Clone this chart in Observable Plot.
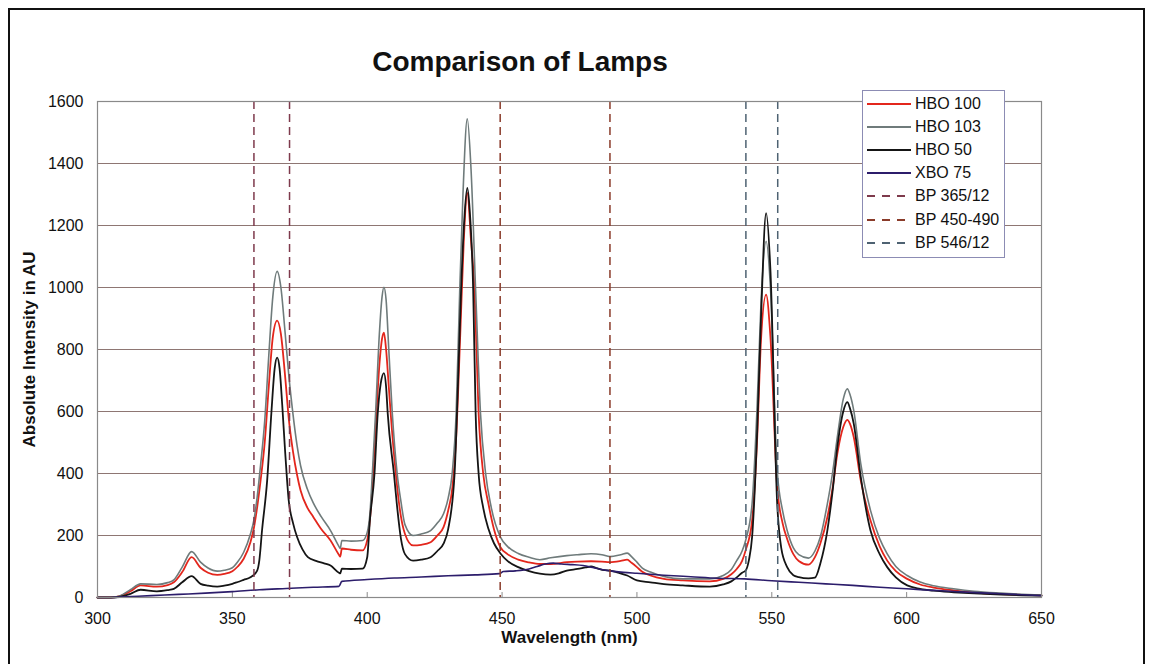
<!DOCTYPE html>
<html><head><meta charset="utf-8">
<script src="https://cdn.jsdelivr.net/npm/d3@7"></script>
<script src="https://cdn.jsdelivr.net/npm/@observablehq/plot@0.6"></script>
<style>
html,body{margin:0;padding:0;background:#fff;}
#wrap{position:relative;width:1155px;height:664px;overflow:hidden;font-family:"Liberation Sans",Arial,sans-serif;}
#border{position:absolute;left:8px;top:8px;width:1137px;height:700px;border:2px solid #111;border-bottom:none;box-sizing:border-box;}
#title{position:absolute;left:0;width:1040px;top:44px;text-align:center;font-size:28px;font-weight:bold;line-height:36px;color:#111;}
#chart{position:absolute;left:0;top:0;}
#legend{position:absolute;left:862px;top:90px;width:141px;border:1px solid #8c8cb4;background:#fff;padding:1px 0 3px 0;}
.row{height:23.2px;display:flex;align-items:center;font-size:16px;color:#111;white-space:nowrap;}
.row svg{margin-left:4px;margin-right:4px;flex:none;}
</style></head>
<body>
<div id="wrap">
  <div id="chart"></div>
  <div id="border"></div>
  <div id="title"></div>
  <div id="legend"></div>
</div>
<script>
// ---- Data ----
const TITLE = "Comparison of Lamps";
const X_TITLE = "Wavelength (nm)";
const Y_TITLE = "Absolute Intensity in AU";
const X_TICKS = [300, 350, 400, 450, 500, 550, 600, 650];
const Y_TICKS = [0, 200, 400, 600, 800, 1000, 1200, 1400, 1600];

// [wavelength nm, intensity AU]
const HBO100 = [[300,0],[305,0],[308.5,5],[312.2,20],[316,39],[322,35],[326,40],[328.3,49],[331.4,82],[334.9,130],[338.2,96],[341,80],[344.4,73],[347,76],[350,85],[352,100],[354.2,125],[356.7,178],[358,225],[359.2,291],[360.5,380],[362,500],[363.5,680],[365,840],[366.6,893],[368,850],[369.5,720],[371,570],[372.5,470],[374,395],[375.3,345],[377.8,290],[380,260],[383,220],[386.4,184],[389.5,138],[390,132],[390.6,158],[394,154],[398.3,152],[400,185],[401,250],[402.2,400],[403.4,594],[404.6,760],[405.5,835],[406.2,854],[407,800],[408,680],[408.7,594],[410.6,400],[412,290],[414,205],[417,168],[420,170],[423.5,178],[426,200],[428.3,227],[430,280],[431.6,356],[433,520],[434.5,850],[435.8,1150],[437.1,1305],[438.5,1150],[439.8,990],[441.3,594],[443,400],[445,300],[447,220],[449.4,162],[452,140],[456,122],[460,113],[464,108],[468,108],[474,114],[478,116],[483,117],[487,116],[490,114],[494,118],[496.4,122],[498,112],[500,98],[502,83],[505,71],[510,60],[517,55],[527,52],[532,60],[535,75],[537,92],[539,118],[540.3,152],[542.7,248],[544.6,517],[546,830],[547.9,977],[549.5,840],[552,356],[554,240],[555.7,189],[558,140],[560,118],[563.6,106],[566,130],[568,174],[570.6,259],[572.5,350],[574.3,463],[576.5,550],[578,573],[579,560],[580.4,517],[583,377],[586.6,248],[590,165],[592.8,119],[596,85],[600.2,60],[605,42],[610,32],[617.4,23],[625,16],[635,11],[650,7]];

const HBO103 = [[300,0],[305,0],[308.5,6],[312.2,25],[316,44],[322,42],[326,48],[328.3,57],[331.4,98],[334.9,148],[338.2,114],[341,95],[344.4,85],[347,88],[350,96],[352,115],[354.2,146],[356.7,205],[358,250],[359.2,324],[360.5,430],[362,570],[363.5,780],[365,970],[366.6,1052],[368,1000],[369.5,860],[371,710],[372.5,590],[374,490],[375.3,425],[377.8,350],[380,305],[383,260],[386.4,216],[389.5,165],[390,158],[390.6,184],[394,182],[398.3,184],[400,210],[401,270],[401.9,400],[403.1,594],[404.5,850],[405.5,970],[406.2,1001],[407,960],[408,800],[409.3,594],[411.1,400],[412.5,310],[414,235],[417,200],[420,205],[423.5,216],[426,240],[428.3,270],[430,320],[431.5,400],[433,600],[434.3,990],[435.5,1300],[437.1,1544],[438.5,1380],[440.2,990],[442,594],[443.9,400],[446,290],[449.4,195],[452,165],[456,142],[460,130],[464,122],[468,128],[474,135],[478,138],[483,141],[487,138],[490,132],[494,138],[496.4,143],[498,132],[500,114],[502,95],[505,82],[510,68],[517,60],[527,60],[532,71],[535,90],[537,119],[539,150],[540.3,184],[542.7,303],[544.6,625],[546,950],[547.9,1149],[549.5,1000],[552,410],[554,280],[555.7,216],[558,160],[560,138],[563.6,127],[566,150],[568,195],[570.6,302],[572.5,400],[574.3,517],[576.5,640],[578,673],[579,655],[580.4,603],[583,431],[586.6,281],[590,190],[592.8,141],[596,100],[600.2,71],[605,50],[610,38],[617.4,28],[625,20],[635,14],[650,8]];

const HBO50 = [[300,0],[305,0],[308.5,3],[312.2,12],[316,25],[322,20],[326,24],[328.3,28],[331.4,49],[334.9,69],[338.2,44],[341,38],[344.4,35],[347,38],[350,44],[352,50],[354.2,57],[356.7,65],[359.2,87],[360,120],[361,216],[362.9,377],[364.5,600],[365.7,740],[366.6,774],[367.5,740],[368.5,620],[369.5,480],[370.9,313],[372.5,240],[374,195],[376,155],[378,130],[381,118],[384,110],[386.4,103],[389.5,80],[390,78],[390.6,93],[394,92],[398.3,93],[400,130],[401,250],[402.7,400],[403.9,594],[405,690],[406.2,724],[407,680],[407.6,594],[409.9,400],[411,300],[412.5,190],[414,140],[417,119],[420,122],[423.5,130],[426,150],[428.3,174],[430,220],[432.4,400],[433.5,650],[434.8,990],[436,1220],[437.1,1321],[438,1250],[439.3,990],[440.2,594],[441.3,400],[443,290],[445,220],[447,175],[449.4,142],[452,118],[456,98],[460,85],[464,77],[468,74],[471,78],[474,87],[478,92],[481,97],[483,100],[485,95],[488,88],[490,87],[493,80],[496.4,71],[500,55],[505,49],[510,43],[517,39],[527,35],[532,42],[535,52],[537,65],[539,80],[540.3,87],[541.5,120],[542.7,195],[544.6,539],[546,900],[547.9,1240],[549.5,1055],[552,303],[553.5,160],[555.7,98],[558,72],[560,66],[563.6,62],[566,64],[568,110],[570.6,216],[572.5,340],[574.3,485],[576.5,600],[578,630],[579,610],[580.4,560],[583,388],[586.6,216],[590,140],[592.8,98],[596,65],[600.2,39],[605,28],[610,22],[617.4,17],[625,13],[635,9],[650,6]];

const XBO75 = [[300,0],[305,0],[310,2],[320,6],[330,10],[340,14],[350,19],[360,25],[370,29],[380,33],[389.5,36],[390.6,52],[400,58],[410,63],[420,66],[430,70],[440,73],[449,77],[450.5,84],[455,86],[460,92],[463,100],[466,108],[469,111],[472,108],[476,106],[480,103],[483,98],[486,92],[490,86],[495,81],[500,78],[510,72],[520,67],[530,62],[540,60],[550,54],[560,49],[570,44],[580,39],[590,33],[600,28],[610,23],[620,18],[630,14],[640,10],[650,6]];

// band-pass filter edges (nm)
const BP365 = [358, 371.2];
const BP450 = [449.3, 490];
const BP546 = [540.4, 552.2];

// ---- styling ----
const SERIES = [
  {name: "HBO 100", data: HBO100, color: "#e3261c", width: 1.8},
  {name: "HBO 103", data: HBO103, color: "#6f7b7b", width: 1.6},
  {name: "HBO 50",  data: HBO50,  color: "#151515", width: 1.8},
  {name: "XBO 75",  data: XBO75,  color: "#2c1d6b", width: 1.6}
];
const BANDS = [
  {name: "BP 365/12",  data: BP365, color: "#7e3a4c"},
  {name: "BP 450-490", data: BP450, color: "#8a3b2a"},
  {name: "BP 546/12",  data: BP546, color: "#4e6272"}
];
const GRID = "#8e7673";
const FONT = "'Liberation Sans', Arial, Helvetica, sans-serif";

const marks = [
  Plot.gridY(Y_TICKS, {stroke: GRID, strokeOpacity: 1, strokeWidth: 1.2}),
  Plot.ruleX(X_TICKS, {x: d => d, y1: 0, y2: 16, stroke: "#8a8a8a"})
];
for (const s of SERIES) {
  marks.push(Plot.line(s.data, {x: d => d[0], y: d => d[1], stroke: s.color, strokeWidth: s.width, curve: "monotone-x"}));
}
for (const b of BANDS) {
  marks.push(Plot.ruleX(b.data, {x: d => d, stroke: b.color, strokeWidth: 1.5, strokeDasharray: "8,5"}));
}
marks.push(
  Plot.frame({stroke: "#8a8a8a", strokeWidth: 1.2}),
  Plot.axisX({ticks: X_TICKS, tickSize: 0, tickPadding: 15, tickFormat: d => String(d), label: null, fontSize: 16}),
  Plot.axisY({ticks: Y_TICKS, tickSize: 0, tickPadding: 14, tickFormat: d => String(d), label: null, fontSize: 16}),
  Plot.text([Y_TITLE], {text: d => d, frameAnchor: "left", textAnchor: "middle", dx: -68, rotate: -90, fontWeight: "bold", fontSize: 17}),
  Plot.text([X_TITLE], {text: d => d, frameAnchor: "bottom", textAnchor: "middle", dy: 45, fontWeight: "bold", fontSize: 17})
);

const chart = Plot.plot({
  width: 1155, height: 664,
  marginTop: 101, marginBottom: 67, marginLeft: 97, marginRight: 114,
  style: {fontFamily: FONT, fontSize: "16px", color: "#111", background: "transparent"},
  x: {domain: [300, 650]},
  y: {domain: [0, 1600]},
  marks
});
document.getElementById("chart").appendChild(chart);
document.getElementById("title").textContent = TITLE;

// legend
const leg = document.getElementById("legend");
const items = SERIES.map(s => ({name: s.name, color: s.color, dash: null}))
  .concat(BANDS.map(b => ({name: b.name, color: b.color, dash: "8,7"})));
for (const it of items) {
  const row = document.createElement("div");
  row.className = "row";
  const svgNS = "http://www.w3.org/2000/svg";
  const sw = document.createElementNS(svgNS, "svg");
  sw.setAttribute("width", 44); sw.setAttribute("height", 10);
  const ln = document.createElementNS(svgNS, "line");
  ln.setAttribute("x1", 0); ln.setAttribute("x2", 44);
  ln.setAttribute("y1", 5); ln.setAttribute("y2", 5);
  ln.setAttribute("stroke", it.color); ln.setAttribute("stroke-width", 1.8);
  if (it.dash) ln.setAttribute("stroke-dasharray", it.dash);
  sw.appendChild(ln);
  row.appendChild(sw);
  const t = document.createElement("span");
  t.textContent = it.name;
  row.appendChild(t);
  leg.appendChild(row);
}
</script>
</body></html>
